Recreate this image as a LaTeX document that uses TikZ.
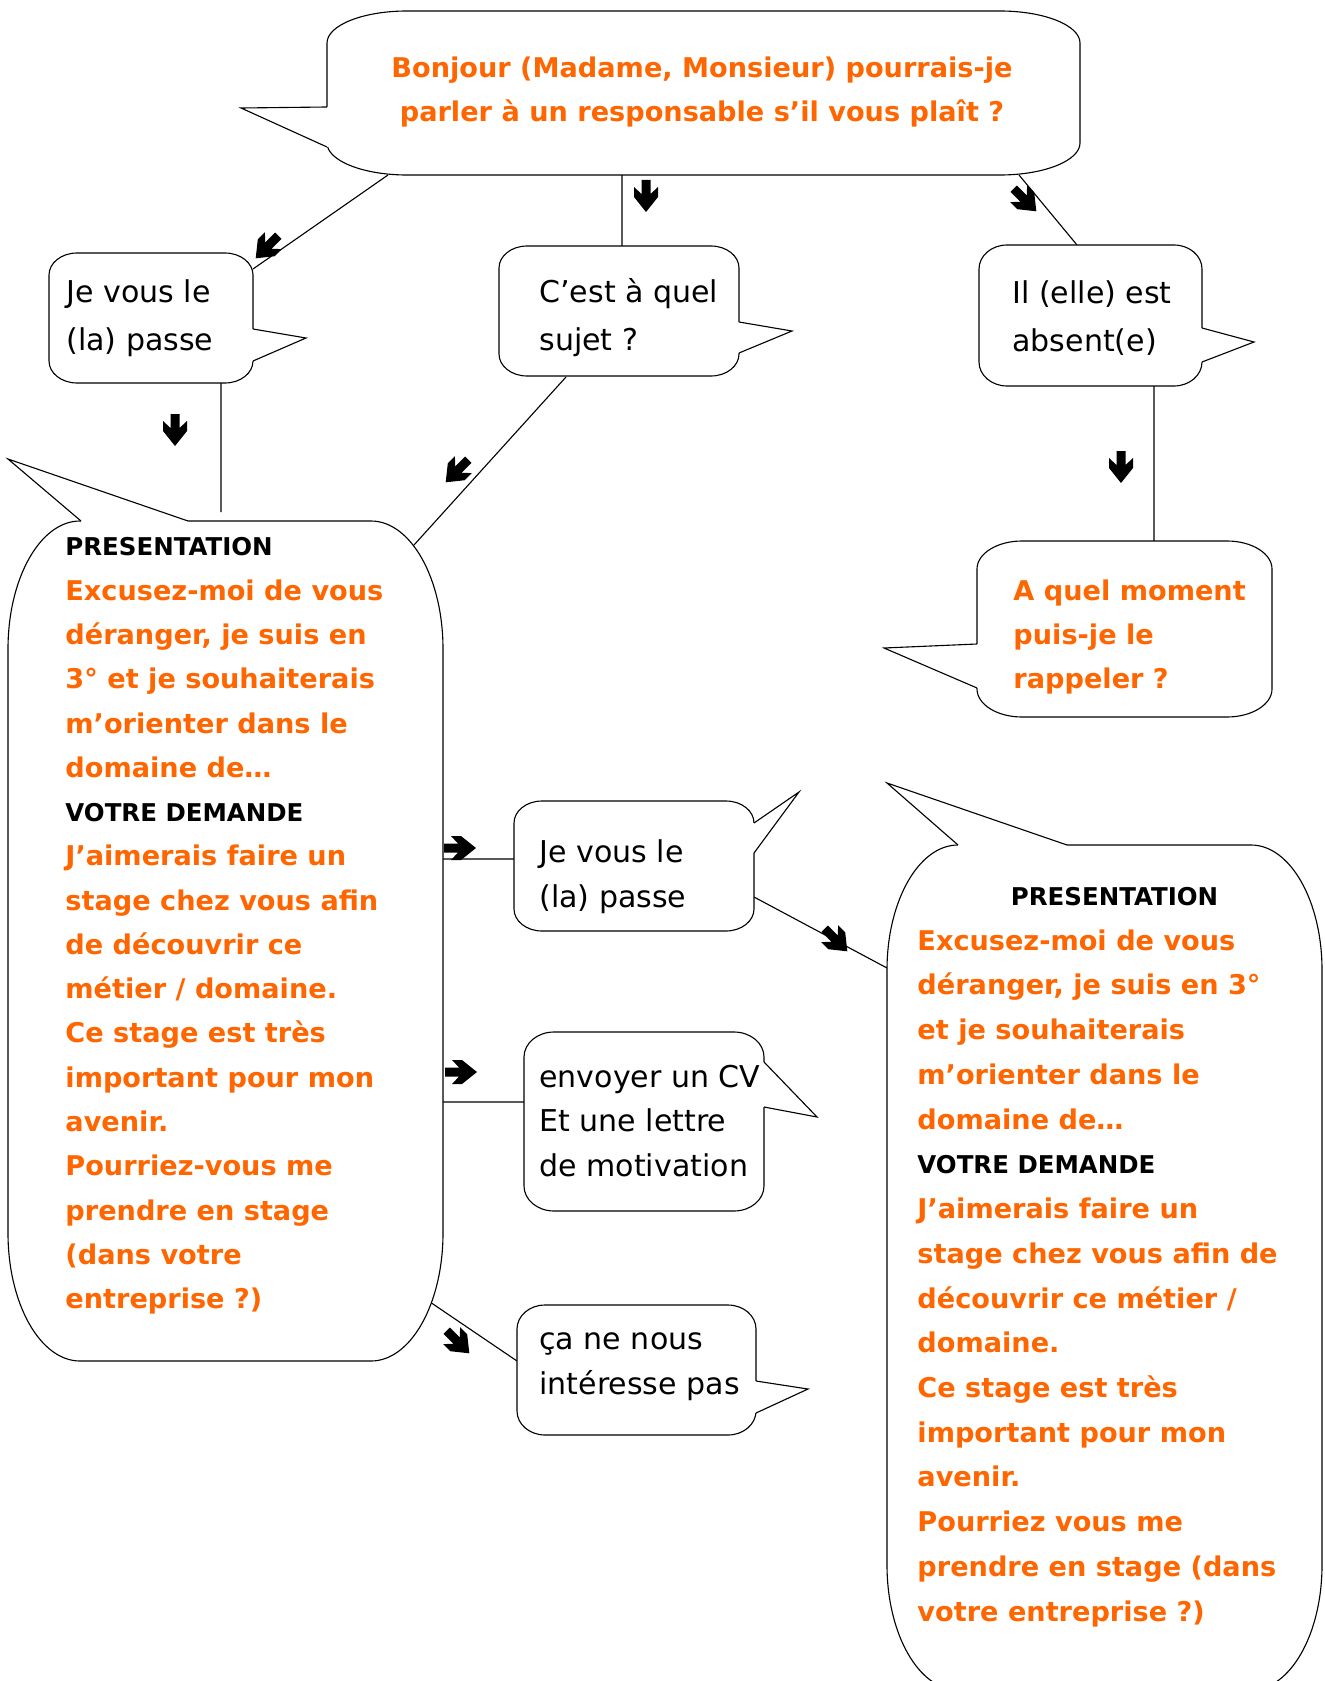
\documentclass[tikz,border=0pt]{standalone}
\usepackage{fontspec}
\setmainfont{DejaVu Sans}
\usepackage{tikz}
\usetikzlibrary{calc}
\definecolor{orangetxt}{RGB}{255,102,0}
\newcommand{\bulle}[6]{
    \draw[bord] ({#1+#5},#2) -- ({#3-#5},#2)
    arc[start angle=-90, end angle=0, x radius=#5, y radius=#6] -- (#3,{#4-#6})
    arc[start angle=0, end angle=90, x radius=#5, y radius=#6] -- ({#1+#5},#4)
    arc[start angle=90, end angle=180, x radius=#5, y radius=#6] -- (#1,{#2+#6})
    arc[start angle=180, end angle=270, x radius=#5, y radius=#6] -- cycle;
}
\newcommand{\queue}[4]{
    \fill[white] #1 -- #2 -- #3 -- ($#3+#4$) -- ($#1+#4$) -- cycle;
    \draw[lien] #1 -- #2 -- #3;
}
\newcommand{\fleche}[2]{
    \begin{scope}[shift={#1}, rotate=#2]
        \fill (-16,-4.5) -- (-2,-4.5) -- (-9,-12) -- (1,-12) -- (16,0)
        -- (1,12) -- (-9,12) -- (-2,4.5) -- (-16,4.5) -- cycle;
    \end{scope}
}
\newcommand{\titre}[1]{{\color{black}\fontsize{11}{19.9}\selectfont #1}}

\begin{document}
\begin{tikzpicture}[x=0.4494pt, y=-0.4494pt,
    bord/.style={draw=black, line width=0.5pt, fill=white},
    lien/.style={draw=black, line width=0.5pt},
    parole/.style={inner sep=0pt, anchor=west, align=left, font=\fontsize{13.5}{20.2}\selectfont},
    reponse/.style={inner sep=0pt, anchor=west, align=left, text=orangetxt, font=\fontsize{12.2}{19.9}\selectfont\bfseries}]
    \useasboundingbox (0,0) rectangle (1324,1681);
    \clip (0,0) rectangle (1324,1681);

    % liens
    \coordinate (bj-g) at (388,175);
    \coordinate (bj-c) at (622,175);
    \coordinate (bj-d) at (1019,175);
    \coordinate (pass1-h) at (253,269);
    \coordinate (pass1-b) at (221,383);
    \coordinate (sujet-h) at (622,246);
    \coordinate (sujet-b) at (566,377);
    \coordinate (absent-h) at (1077,245);
    \coordinate (absent-b) at (1154,386);
    \coordinate (moment-h) at (1154,541);
    \coordinate (pres1-h) at (221,512);
    \coordinate (pres1-d1) at (414,545);
    \coordinate (pres1-d2) at (443,859);
    \coordinate (pres1-d3) at (443,1102);
    \coordinate (pres1-d4) at (430,1302);
    \coordinate (pass2-g) at (514,859);
    \coordinate (pass2-d) at (754,897);
    \coordinate (cv-g) at (524,1102);
    \coordinate (refus-g) at (517,1361);
    \coordinate (pres2-g) at (887,968);
    \draw[lien]
    (bj-g) -- (pass1-h) (bj-c) -- (sujet-h) (bj-d) -- (absent-h)
    (pass1-b) -- (pres1-h) (sujet-b) -- (pres1-d1) (absent-b) -- (moment-h)
    (pres1-d2) -- (pass2-g) (pres1-d3) -- (cv-g) (pres1-d4) -- (refus-g)
    (pass2-d) -- (pres2-g);

    % bulles
    \bulle{327}{11}{1080}{175}{80}{32}
    \queue{(327,107)}{(241,108)}{(327,147)}{(3,0)}
    \bulle{49}{253}{253}{383}{28}{22}
    \queue{(253,329)}{(306,338)}{(253,361)}{(-3,0)}
    \bulle{499}{246}{739}{376}{28}{22}
    \queue{(739,322)}{(792,331)}{(739,353)}{(-3,0)}
    \bulle{979}{245}{1202}{386}{28}{24}
    \queue{(1202,328)}{(1254,342)}{(1202,362)}{(-3,0)}
    \bulle{977}{541}{1272}{717}{45}{28}
    \queue{(977,644)}{(884,648)}{(977,688)}{(3,0)}
    \bulle{8}{521}{443}{1361}{72}{128}
    \queue{(81,521)}{(8,459)}{(188,521)}{(0,3)}
    \bulle{514}{801}{754}{931}{28}{22}
    \queue{(754,823)}{(799,792)}{(754,853)}{(-3,0)}
    \bulle{524}{1032}{764}{1211}{30}{25}
    \queue{(764,1062)}{(817,1117)}{(764,1107)}{(-3,0)}
    \bulle{517}{1305}{756}{1435}{28}{24}
    \queue{(756,1381)}{(808,1389)}{(756,1413)}{(-3,0)}
    \bulle{887}{845}{1322}{1690}{71}{125}
    \queue{(958,845)}{(887,783)}{(1067,845)}{(0,3)}

    % textes
    \node[reponse, anchor=center, align=center] (bonjour) at (702,92)
    {Bonjour (Madame, Monsieur) pourrais-je\\parler à un responsable s’il vous plaît ?};
    \node[parole, font=\fontsize{13.5}{21.6}\selectfont] (pass1) at (66,318) {Je vous le\\(la) passe};
    \node[parole, font=\fontsize{13.5}{21.6}\selectfont] (sujet) at (539,318) {C’est à quel\\sujet ?};
    \node[parole, font=\fontsize{13.5}{21.6}\selectfont] (absent) at (1012,318) {Il (elle) est\\absent(e)};
    \node[reponse] (moment) at (1013,637) {A quel moment\\puis-je le\\rappeler ?};
    \node[reponse] (pres1) at (65,926) {\titre{PRESENTATION}\\
        Excusez-moi de vous\\déranger, je suis en\\3° et je souhaiterais\\m’orienter dans le\\domaine de…\\
        \titre{VOTRE DEMANDE}\\
        J’aimerais faire un\\stage chez vous afin\\de découvrir ce\\métier / domaine.\\Ce stage est très\\
        important pour mon\\avenir.\\Pourriez-vous me\\prendre en stage\\(dans votre\\entreprise ?)};
    \node[parole] (pass2) at (539,877) {Je vous le\\(la) passe};
    \node[parole] (cv) at (539,1121) {envoyer un CV\\Et une lettre\\de motivation};
    \node[parole] (refus) at (539,1367) {ça ne nous\\intéresse pas};
    \node[reponse, font=\fontsize{12.2}{20.1}\selectfont\bfseries] (pres2) at (917,1257) {\hspace*{42pt}\titre{PRESENTATION}\\
        Excusez-moi de vous\\déranger, je suis en 3°\\et je souhaiterais\\m’orienter dans le\\domaine de…\\
        \titre{VOTRE DEMANDE}\\
        J’aimerais faire un\\stage chez vous afin de\\découvrir ce métier /\\domaine.\\Ce stage est très\\
        important pour mon\\avenir.\\Pourriez vous me\\prendre en stage (dans\\votre entreprise ?)};

    % fleches
    \fleche{(267,247)}{-135}
    \fleche{(646,196)}{-90}
    \fleche{(1025,200)}{-45}
    \fleche{(175,430)}{-90}
    \fleche{(457,471)}{-135}
    \fleche{(1121,467)}{-90}
    \fleche{(460,848)}{0}
    \fleche{(836,940)}{-45}
    \fleche{(461,1072)}{0}
    \fleche{(458,1342)}{-45}
\end{tikzpicture}
\end{document}
